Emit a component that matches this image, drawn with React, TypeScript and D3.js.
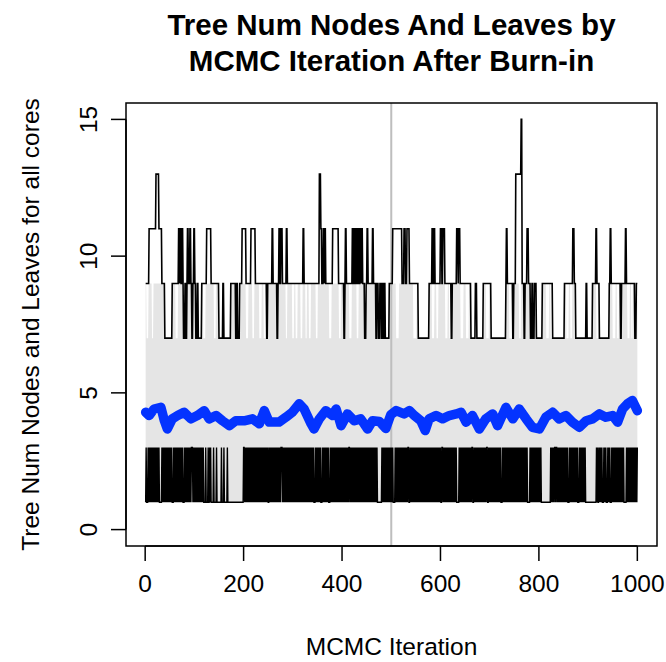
import React from "react";
import * as d3 from "d3";

// ---------- data ----------
const N_ITER = 1000;
const coreBoundary = 500;
const xTicks = [0, 200, 400, 600, 800, 1000];
const yTicks = [0, 5, 10, 15];

// max number of nodes over all trees: [start iteration, value] run list
const maxRuns: [number, number][] = [
  [0, 9], [8, 11], [22, 13], [28, 11], [34, 9], [40, 7], [55, 9], [68, 11], [70, 9], [71, 11],
  [73, 9], [75, 11], [77, 9], [78, 7], [81, 9], [83, 7], [85, 9], [86, 11], [88, 9], [91, 11],
  [93, 9], [95, 7], [97, 9], [99, 11], [101, 9], [103, 7], [106, 9], [108, 7], [115, 9], [125, 11],
  [134, 9], [150, 7], [158, 9], [160, 7], [174, 9], [184, 7], [186, 9], [188, 7], [192, 9], [197, 11],
  [205, 9], [215, 11], [224, 9], [247, 7], [249, 9], [258, 11], [260, 9], [268, 7], [270, 9], [272, 11],
  [274, 9], [276, 11], [279, 9], [287, 11], [289, 9], [321, 11], [323, 9], [354, 13], [357, 11], [359, 9],
  [362, 11], [364, 9], [365, 11], [367, 9], [381, 11], [393, 9], [404, 7], [406, 9], [407, 11], [409, 9],
  [421, 11], [423, 9], [425, 11], [427, 9], [429, 11], [431, 9], [433, 11], [435, 9], [437, 11], [439, 9],
  [440, 11], [442, 9], [446, 7], [449, 9], [451, 11], [453, 9], [462, 11], [464, 9], [469, 7], [471, 9],
  [474, 7], [477, 9], [480, 7], [482, 9], [484, 7], [486, 9], [488, 7], [496, 9], [503, 11], [522, 9],
  [526, 11], [529, 9], [532, 11], [537, 9], [555, 7], [577, 9], [583, 11], [585, 9], [587, 11], [589, 9],
  [600, 11], [603, 9], [605, 11], [609, 9], [622, 7], [624, 9], [633, 11], [636, 9], [637, 11], [640, 9],
  [662, 7], [671, 9], [674, 7], [687, 9], [703, 7], [733, 9], [734, 11], [736, 9], [747, 7], [749, 9],
  [753, 13], [764, 15], [766, 9], [770, 7], [772, 9], [776, 11], [779, 9], [783, 7], [786, 9], [788, 7],
  [791, 9], [795, 7], [807, 9], [828, 7], [852, 9], [869, 11], [872, 9], [875, 7], [896, 9], [898, 7],
  [909, 9], [916, 11], [918, 9], [923, 7], [943, 9], [945, 11], [947, 9], [966, 7], [968, 9], [976, 11],
  [978, 9], [995, 7], [998, 9],
];

// min number of nodes over all trees, one digit per iteration (50 per row)
const minRows = [
  "1311131313 1313131313 1313131311 1113131313 1313131313",
  "1313111313 1313131313 1313131113 1313131313 1313331313",
  "1313131313 1313131311 1131111311 3131111131 1111311111",
  "1111311113 1111113111 1111111111 1111111111 1111111113",
  "3131313131 3131313131 3131313131 3131313131 3131313131",
  "1313131313 1313131313 1313133313 1313131313 1313131313",
  "1313131313 1313131313 1313131313 1313131313 1311131313",
  "1313131113 1313131313 1311131313 1313131313 1313131313",
  "1313131313 1313313131 3131313131 3131313131 3131313131",
  "3131313131 3131313131 3111111111 3131313131 3131313131",
  "3131111313 1313131313 1313131313 1313311313 1313131313",
  "1313131313 1313131313 1313131313 1313131313 1313131313",
  "1133131313 1313131313 1313131313 1311111313 1313131313",
  "1313131313 1313311313 1313131313 1313131313 1313311313",
  "1313131313 1313131313 1311131313 1313131313 1313131313",
  "1313131313 1313131313 1313131111 1313131313 1313131313",
  "1313111111 1111111111 1113131313 1331331313 1313131313",
  "1313131311 1313131313 1313131311 1313131313 1313111111",
  "1111111111 1111113131 1313131311 1313131113 1313111313",
  "1313131313 1313131313 1311111313 1313131313 1313131313",
];

// upper edge of the grey cloud of individual tree traces (9), and the
// iteration ranges where no other tree reaches above 7 (white streaks)
const greyCap = 9;
const greyLow = 7;
const greyGaps: [number, number][] = [
  [3, 6], [14, 16], [62, 66], [83, 85], [118, 122], [140, 143], [205, 209], [218, 221], [232, 236], [241, 245],
  [286, 288], [299, 302], [306, 309], [316, 319], [326, 328], [333, 336], [347, 350], [374, 378], [394, 397], [415, 419],
  [430, 433], [510, 515], [545, 551], [560, 563], [583, 587], [592, 595], [610, 614], [618, 621], [641, 646], [652, 657],
  [693, 698], [740, 745], [760, 763], [815, 820], [824, 827], [856, 860], [864, 867], [917, 921], [950, 955], [959, 962],
  [980, 984], [988, 990],
];

// mean number of nodes (blue)
const meanIters = [
  1, 8, 18, 32, 39, 45, 55, 66, 79, 93, 106, 120, 130, 144, 157, 171, 184, 201, 218, 232,
  242, 252, 272, 286, 299, 313, 323, 337, 343, 354, 367, 381, 388, 398, 411, 425, 438, 452, 462, 476,
  489, 499, 510, 526, 537, 547, 560, 569, 577, 591, 604, 618, 632, 642, 652, 665, 679, 692, 706, 716,
  733, 747, 760, 774, 787, 801, 814, 828, 841, 855, 868, 882, 896, 909, 923, 936, 950, 960, 970, 980,
  990, 1000,
];
const meanValues = [
  4.29, 4.17, 4.41, 4.47, 3.98, 3.68, 4.05, 4.17, 4.29, 4.05, 4.17, 4.35, 4.05, 4.17, 3.98, 3.8, 3.98, 3.98, 4.05, 3.87,
  4.35, 3.93, 3.93, 4.11, 4.29, 4.6, 4.41, 3.87, 3.68, 4.05, 4.35, 4.17, 4.41, 3.8, 4.23, 3.98, 4.05, 3.68, 3.98, 3.95,
  3.7, 4.2, 4.35, 4.23, 4.35, 4.17, 3.98, 3.62, 4.05, 4.17, 4.05, 4.17, 4.23, 4.29, 3.93, 4.17, 3.68, 4.05, 4.23, 3.8,
  4.47, 4.05, 4.41, 4.05, 3.74, 3.68, 4.11, 4.29, 4.05, 4.17, 3.93, 3.74, 3.98, 4.05, 4.23, 4.11, 4.17, 3.93, 4.41, 4.6,
  4.72, 4.35,
];

// ---------- decoding ----------
const minSeries: number[] = minRows.join("").replace(/\s/g, "").split("").map(Number);
const maxSeries: number[] = (() => {
  const out: number[] = [];
  let k = 0;
  for (let i = 0; i < N_ITER; i++) {
    const it = i + 1;
    while (k + 1 < maxRuns.length && maxRuns[k + 1][0] <= it) k++;
    out.push(maxRuns[k][1]);
  }
  return out;
})();
const greyTop: number[] = maxSeries.map((m, i) => {
  const it = i + 1;
  const inGap = greyGaps.some(([a, b]) => it >= a && it <= b);
  return Math.min(m, inGap ? greyLow : greyCap);
});

const FONT = "'Liberation Sans', Arial, Helvetica, sans-serif";

export default function App() {
  const x = d3.scaleLinear().domain([1 - 0.04 * 999, 1000 + 0.04 * 999]).range([126, 657]);
  const y = d3.scaleLinear().domain([-0.6, 15.6]).range([546, 103]);
  const [x0, x1] = x.range();
  const [yb, yt] = y.range();

  const idx = d3.range(Math.min(minSeries.length, maxSeries.length));

  const greyArea = d3
    .area<number>()
    .x((i) => x(i + 1))
    .y0((i) => y(minSeries[i]))
    .y1((i) => y(greyTop[i]))(idx) as string;

  const seriesLine = (vals: number[]) =>
    d3
      .line<number>()
      .x((i) => x(i + 1))
      .y((i) => y(vals[i]))(idx) as string;

  const meanLine = d3
    .line<number>()
    .x((i) => x(meanIters[i]))
    .y((i) => y(meanValues[i]))
    .curve(d3.curveLinear)(d3.range(meanIters.length)) as string;

  const cx = (x0 + x1) / 2;
  const cy = (yb + yt) / 2;

  return (
    <svg
      width={666}
      height={662}
      style={{ position: "absolute", left: 0, top: 0, background: "#fff" }}
      fontFamily={FONT}
    >
      <rect x={0} y={0} width={666} height={662} fill="#fff" />
      {/* title */}
      <text x={cx} y={35} textAnchor="middle" fontWeight="bold" fontSize={29.5}>
        Tree Num Nodes And Leaves by
      </text>
      <text x={cx} y={71} textAnchor="middle" fontWeight="bold" fontSize={29.5}>
        MCMC Iteration After Burn-in
      </text>

      {/* grey cloud of tree traces */}
      <path d={greyArea} fill="#e5e5e5" stroke="none" />
      {/* core boundary */}
      <line x1={x(coreBoundary)} x2={x(coreBoundary)} y1={yb} y2={yt} stroke="#bebebe" strokeWidth={2} />
      {/* min and max */}
      <path d={seriesLine(minSeries)} fill="none" stroke="#000" strokeWidth={1.4} />
      <path d={seriesLine(maxSeries)} fill="none" stroke="#000" strokeWidth={1.6} strokeLinejoin="miter" />
      {/* mean */}
      <path d={meanLine} fill="none" stroke="#0433ff" strokeWidth={9.5} strokeLinejoin="round" strokeLinecap="round" />

      {/* plot box */}
      <rect x={x0} y={yt} width={x1 - x0} height={yb - yt} fill="none" stroke="#000" strokeWidth={1.5} />

      {/* x axis */}
      <line x1={x(xTicks[0])} x2={x(xTicks[xTicks.length - 1])} y1={yb} y2={yb} stroke="#000" strokeWidth={1.5} />
      {xTicks.map((t) => (
        <g key={"xt" + t}>
          <line x1={x(t)} x2={x(t)} y1={yb} y2={yb + 15} stroke="#000" strokeWidth={1.5} />
          <text x={x(t)} y={592} textAnchor="middle" fontSize={24.5}>
            {t}
          </text>
        </g>
      ))}
      {/* y axis */}
      <line x1={x0} x2={x0} y1={y(yTicks[0])} y2={y(yTicks[yTicks.length - 1])} stroke="#000" strokeWidth={1.5} />
      {yTicks.map((t) => (
        <g key={"yt" + t}>
          <line x1={x0} x2={x0 - 15} y1={y(t)} y2={y(t)} stroke="#000" strokeWidth={1.5} />
          <text
            transform={`translate(${96.5},${y(t)}) rotate(-90)`}
            textAnchor="middle"
            fontSize={24.5}
          >
            {t}
          </text>
        </g>
      ))}

      {/* axis titles */}
      <text x={cx} y={655} textAnchor="middle" fontSize={24.5}>
        MCMC Iteration
      </text>
      <text transform={`translate(${38.5},${cy}) rotate(-90)`} textAnchor="middle" fontSize={24.5}>
        Tree Num Nodes and Leaves for all cores
      </text>
    </svg>
  );
}
